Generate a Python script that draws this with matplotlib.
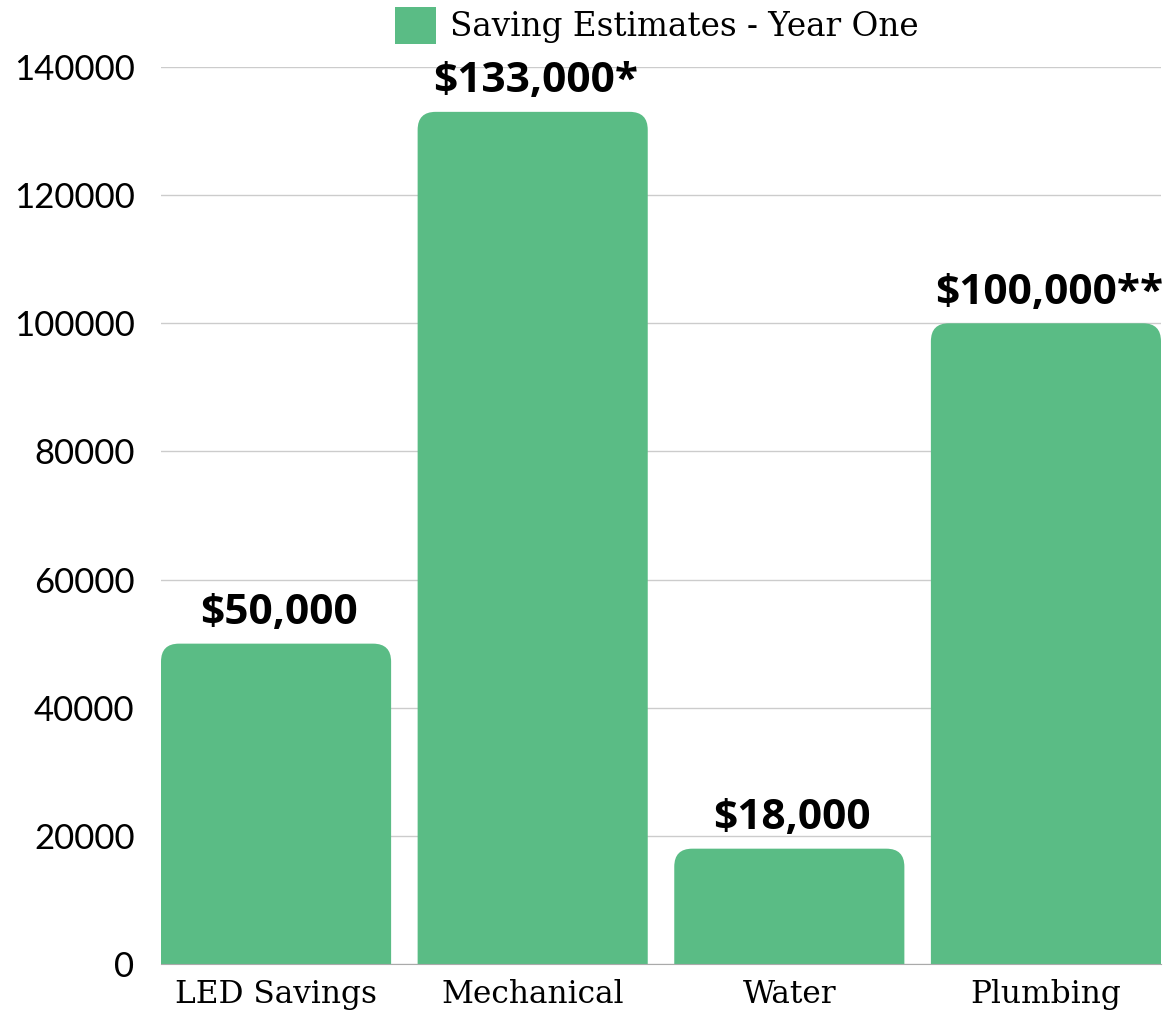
import matplotlib.pyplot as plt
from matplotlib.patches import FancyBboxPatch, Patch

categories = ["LED Savings", "Mechanical", "Water", "Plumbing"]
savings = [50000, 133000, 18000, 100000]
value_labels = ["$50,000", "$133,000*", "$18,000", "$100,000**"]
yticks = [0, 20000, 40000, 60000, 80000, 100000, 120000, 140000]

green = "#5abc85"
W, H = 1166, 1013
fig = plt.figure(figsize=(W / 100, H / 100), dpi=100)
ax = fig.add_axes([161 / W, 1 - 964 / H, 1000 / W, (964 - 67) / H])

bar_w = 230 / 256.5
xs = list(range(len(categories)))
ax.set_xlim(-bar_w / 2, xs[-1] + bar_w / 2)
ax.set_ylim(0, 140000)

# corner radius in pixels -> data units
px_x = (xs[-1] + bar_w) / 1000
px_y = 140000 / (964 - 67)
r = 18
for x, v, lab in zip(xs, savings, value_labels):
    p = FancyBboxPatch((x - bar_w / 2, -r * px_y * 2), bar_w, v + r * px_y * 2,
                       boxstyle=f"round,pad=0,rounding_size={r * px_x}",
                       mutation_aspect=px_y / px_x, fc=green, ec="none", zorder=2)
    ax.add_patch(p)
    ax.annotate(lab, (x + 0.012, v), xytext=(0, 7), textcoords="offset points",
                ha="center", va="bottom", fontsize=30.5, fontweight="bold",
                family="Open Sans", color="black")

ax.set_yticks(yticks)
ax.set_yticklabels([str(t) for t in yticks], family="Lato", fontsize=25)
ax.set_xticks(xs)
ax.set_xticklabels(categories, family="DejaVu Serif", fontsize=22.5)
ax.tick_params(length=0)
ax.tick_params(axis="y", pad=19)
ax.tick_params(axis="x", pad=11)
ax.grid(axis="y", color="#cccccc", linewidth=1)
ax.set_axisbelow(True)
for s in ["top", "right", "left"]:
    ax.spines[s].set_visible(False)
ax.spines["bottom"].set_color("#aaaaaa")
ax.spines["bottom"].set_zorder(3)

fig.legend(handles=[Patch(fc=green, ec="none")], labels=["Saving Estimates - Year One"],
           loc="upper center", bbox_to_anchor=(657 / W, 1.0), frameon=False,
           prop={"family": "DejaVu Serif", "size": 23.5}, handlelength=1.25,
           handleheight=1.4, handletextpad=0.45, borderaxespad=0.0, borderpad=0.2)

fig.savefig("out.png", dpi=100)
